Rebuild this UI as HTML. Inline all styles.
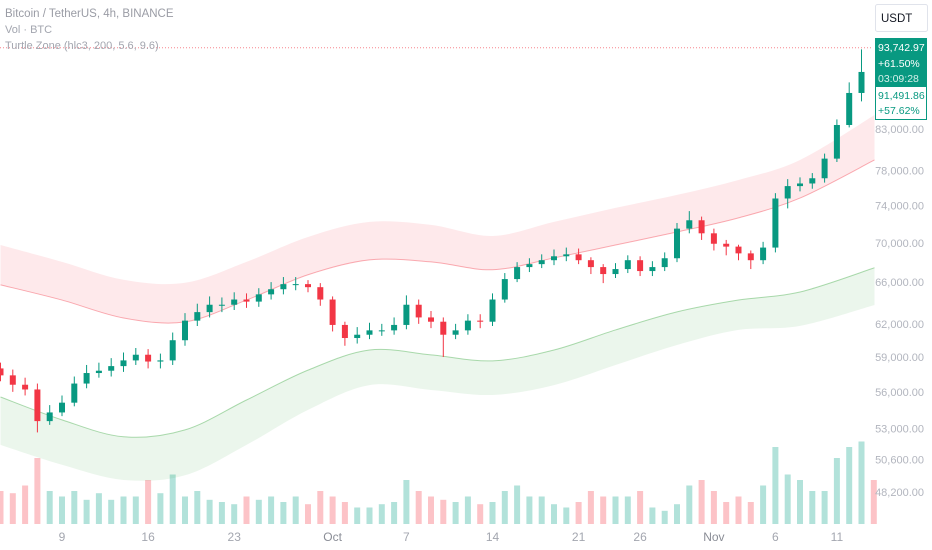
<!DOCTYPE html>
<html><head><meta charset="utf-8"><style>
body{margin:0;background:#fff;font-family:"Liberation Sans",sans-serif;}
#wrap{position:relative;width:932px;height:550px;overflow:hidden;}
svg{position:absolute;left:0;top:0;}
.leg{position:absolute;left:5px;font-size:11px;color:#a3a6af;white-space:nowrap;}
</style></head><body>
<div id="wrap">
<svg id="chart" width="932" height="550"></svg>
<div class="leg" style="top:8px;color:#9a9ca5;font-size:11.5px">Bitcoin / TetherUS, 4h, BINANCE</div>
<div class="leg" style="top:24px">Vol · BTC</div>
<div class="leg" style="top:40px">Turtle Zone (hlc3, 200, 5.6, 9.6)</div>
</div>
<script>
const closes=[57400,56600,56200,53600,54300,55100,56700,57600,57800,58200,58700,59200,58600,58700,60500,62300,63100,63800,63800,64300,64100,64800,65300,65800,65800,65500,64300,61900,60700,61000,61400,61400,61900,63800,62600,62200,61000,61400,62300,62200,64300,66300,67500,67800,68200,68600,68800,68200,67500,66800,67300,68200,67100,67500,68400,71500,72400,71000,69900,69600,68900,68200,69500,74800,76200,76500,77100,79400,83500,87600,90400];
const firstOpen=58000;
const highs=[58500,57900,57200,56700,54900,55700,57300,58300,58500,58900,59400,59800,59700,59300,61200,63000,63900,64600,64500,65000,64900,65400,66000,66500,66500,66200,65900,64600,62200,61700,62100,62000,62600,64700,64300,63200,62600,62000,62900,62900,64900,66900,68000,68400,68800,69300,69500,69400,68500,67800,67900,68700,68600,68100,69000,72100,73400,72800,71500,70300,69800,69200,70100,75400,77000,77200,77700,80000,84200,89000,93500];
const lows=[56900,56000,55700,52700,53300,54000,54800,56300,57200,57300,57700,58300,58000,58000,58300,60000,61800,62600,63100,63300,63500,63600,64300,64800,65200,65000,63700,61300,60000,60200,60600,60900,61000,61500,62000,61600,59000,60600,61000,61600,61800,64000,66000,67000,67400,67700,68100,67800,66800,65900,66400,66900,66600,66600,67100,68000,71000,70300,69200,68700,68200,67300,67800,69000,73700,75600,75900,76600,79000,83200,86500];
const volumes=[30,28,35,60,30,25,30,22,28,22,25,25,40,28,45,25,30,22,20,18,25,22,25,20,25,18,30,25,20,15,15,18,20,40,30,25,22,20,25,18,20,30,35,25,25,18,15,20,30,25,25,25,30,15,12,18,35,40,30,20,25,20,35,70,45,40,30,30,60,70,75,40];
const bandDays=[0,5,10,15,20,25,30,35,40,45,50,55,60,65,70];
const redLine=[65730,64250,62550,62180,64250,66730,68230,68030,67230,68430,69770,71140,72660,74850,79240];
const redTop=[69770,68030,66230,65930,68030,70610,72220,71900,70720,72220,73750,75200,76900,79240,84760];
const greenLine=[55570,53700,52360,52900,55320,57850,59620,59190,58660,59620,61440,63120,64250,65030,67430];
const greenBottom=[51730,50210,49080,49430,51730,54510,56570,56160,55740,56570,58300,60070,61440,61810,63770];
const priceTicks=[83000,78000,74000,70000,66000,62000,59000,56000,53000,50600,48200];
const dateLabels=["9","16","23","Oct","7","14","21","26","Nov","6","11"];
const dateDays=[5,12,19,27,33,40,47,52,58,63,68];
const lastPrice=93742.97;

const NS="http://www.w3.org/2000/svg";
const svg=document.getElementById('chart');
const X=i=>0.5+i*12.3;
const Y=p=>129+Math.log(83000/p)*668;
const volBase=524;
const VY=v=>volBase-v*1.1;
function mk(tag,attrs,parent){const e=document.createElementNS(NS,tag);for(const k in attrs)e.setAttribute(k,attrs[k]);(parent||svg).appendChild(e);return e;}
function smooth(pts){let d=`M${pts[0][0]},${pts[0][1]}`;for(let i=0;i<pts.length-1;i++){const p0=pts[Math.max(0,i-1)],p1=pts[i],p2=pts[i+1],p3=pts[Math.min(pts.length-1,i+2)];const c1=[p1[0]+(p2[0]-p0[0])/6,p1[1]+(p2[1]-p0[1])/6],c2=[p2[0]-(p3[0]-p1[0])/6,p2[1]-(p3[1]-p1[1])/6];d+=` C${c1[0]},${c1[1]} ${c2[0]},${c2[1]} ${p2[0]},${p2[1]}`;}return d;}
function band(a,b,fill,line,lineOnA,name){
  const pa=bandDays.map((d,i)=>[X(d)+(d===70?13:0),Y(a[i])]);
  const pb=bandDays.map((d,i)=>[X(d)+(d===70?13:0),Y(b[i])]);
  const da=smooth(pa), db=smooth(pb.slice().reverse());
  const f=mk('path',{d:da+' L'+db.slice(1)+' Z',fill:fill});
  
  
  const l=mk('path',{d:smooth(lineOnA?pa:pb),fill:'none',stroke:line,'stroke-width':1});
  
  
}
// volume
volumes.forEach((v,i)=>{
  const o=i?closes[i-1]:firstOpen, up=closes[i]>=o;
  const r=mk('rect',{x:X(i)-3,y:VY(v),width:6,height:volBase-VY(v),fill:up?'rgba(34,171,148,0.35)':'rgba(247,82,95,0.35)'});
  
  
});
band(redTop,redLine,'rgba(242,54,69,0.11)','rgba(242,54,69,0.4)',false,'upper-zone');
band(greenLine,greenBottom,'rgba(76,175,80,0.11)','rgba(76,175,80,0.45)',true,'lower-zone');
// last price dotted line
const pl=mk('line',{x1:0,x2:873,y1:Y(lastPrice),y2:Y(lastPrice),stroke:'#f23645','stroke-width':1,'stroke-dasharray':'1 2',opacity:0.6});


// candles
closes.forEach((c,i)=>{
  const o=i?closes[i-1]:firstOpen, up=c>=o, col=up?'#089981':'#f23645';
  const g=mk('g',{});
  
  
  mk('line',{x1:X(i),x2:X(i),y1:Y(highs[i]),y2:Y(lows[i]),stroke:col,'stroke-width':1},g);
  const t=Y(Math.max(o,c)),b=Y(Math.min(o,c));
  mk('rect',{x:X(i)-3,y:t,width:6,height:Math.max(1,b-t),fill:col},g);
});
// price axis
priceTicks.forEach(p=>{
  const t=mk('text',{x:924,y:Y(p)+4,'text-anchor':'end','font-size':11,fill:'#b2b5be','font-family':'Liberation Sans'});
  t.textContent=p.toLocaleString('en-US',{minimumFractionDigits:2});
  
  
});
dateLabels.forEach((s,i)=>{
  const bold=(s==='Oct'||s==='Nov');
  const t=mk('text',{x:X(dateDays[i]),y:541,'text-anchor':'middle','font-size':12,fill:bold?'#8a8d96':'#a3a6af','font-family':'Liberation Sans'});
  t.textContent=s;
  
  
});
// USDT box
const ub=mk('rect',{x:875.5,y:4.5,width:52,height:27,rx:2,fill:'#fff',stroke:'#e0e3eb'});


const ut=mk('text',{x:881,y:22,'font-size':11.5,fill:'#131722','font-family':'Liberation Sans'});ut.textContent='USDT';


// price labels
const gb=mk('rect',{x:875,y:38,width:52,height:49,fill:'#089981'});


[['93,742.97',51],['+61.50%',67],['03:09:28',82]].forEach(([s,y],k)=>{
  const t=mk('text',{x:878,y:y,'font-size':10.5,fill:k==2?'#d6f0ea':'#fff','font-family':'Liberation Sans'});t.textContent=s;
  
  
});
const wb=mk('rect',{x:875.5,y:86.5,width:51,height:33,fill:'#fff',stroke:'#089981'});


[['91,491.86',99],['+57.62%',114]].forEach(([s,y])=>{
  const t=mk('text',{x:878,y:y,'font-size':10.5,fill:'#089981','font-family':'Liberation Sans'});t.textContent=s;
  
  
});
</script>
</body></html>
